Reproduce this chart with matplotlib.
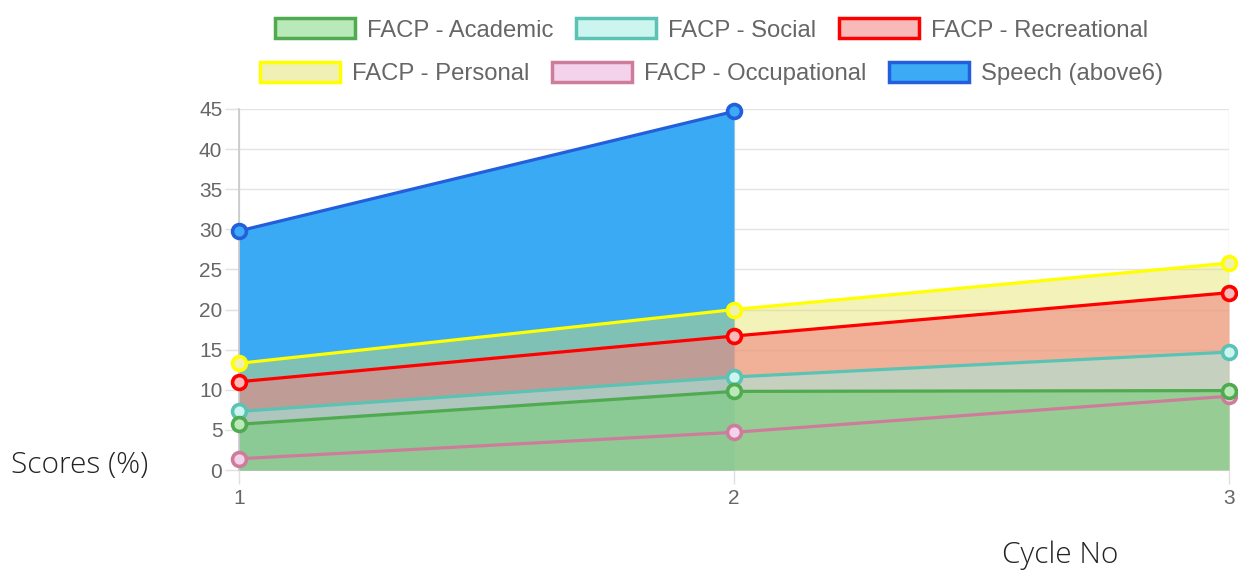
import matplotlib
matplotlib.use("Agg")
import matplotlib.pyplot as plt
import numpy as np
from matplotlib.patches import Patch

# data
cycles = [1, 2, 3]
academic = [5.7, 9.8, 9.9]
social = [7.3, 11.6, 14.7]
recreational = [11.0, 16.7, 22.1]
personal = [13.3, 20.0, 25.8]
occupational = [1.4, 4.7, 9.2]
speech = [29.8, 44.7, np.nan]
y_ticks = [0, 5, 10, 15, 20, 25, 30, 35, 40, 45]

labels = ["FACP - Academic", "FACP - Social", "FACP - Recreational",
          "FACP - Personal", "FACP - Occupational", "Speech (above6)"]


def rgb(r, g, b, a=1.0):
    return (r / 255, g / 255, b / 255, a)


# (line colour, area colour, legend face colour)
styles = {
    "FACP - Academic": (rgb(80, 170, 80), rgb(106, 206, 110, 0.5), rgb(185, 232, 185)),
    "FACP - Social": (rgb(90, 195, 180), rgb(158, 240, 228, 0.5), rgb(205, 245, 240)),
    "FACP - Recreational": (rgb(255, 0, 0), rgb(240, 128, 128, 0.57), rgb(248, 185, 185)),
    "FACP - Personal": (rgb(255, 255, 0), rgb(225, 225, 90, 0.42), rgb(240, 240, 180)),
    "FACP - Occupational": (rgb(205, 125, 155), rgb(240, 180, 220, 0.35), rgb(245, 210, 235)),
    "Speech (above6)": (rgb(35, 95, 220), rgb(58, 170, 245), rgb(60, 170, 245)),
}

series = [academic, social, recreational, personal, occupational, speech]

fig = plt.figure(figsize=(12.38, 5.77), dpi=100)
ax = fig.add_axes([239 / 1238, 1 - 470 / 577, (1229 - 239) / 1238, (470 - 109) / 577])

x = np.array(cycles, dtype=float)
# first dataset ends up on top, the last one (speech) at the bottom
for i, (name, vals) in enumerate(zip(labels, series)):
    line_c, area_c, face_c = styles[name]
    y = np.array(vals, dtype=float)
    ax.fill_between(x, 0, y, color=area_c, linewidth=0, zorder=2 - 0.1 * i)
    ax.plot(x, y, color=line_c, lw=2.3, marker="o", ms=10, mew=2.6,
            mfc=face_c, mec=line_c, zorder=5 - 0.1 * i, clip_on=False)

ax.set_xlim(1, 3)
ax.set_ylim(0, 45)
ax.set_xticks(cycles)
ax.set_yticks(y_ticks)
ax.grid(True, color="#e4e4e4", lw=1, zorder=0)
ax.set_axisbelow(True)
for s in ["top", "right", "bottom"]:
    ax.spines[s].set_visible(False)
ax.spines["left"].set_color("#c8c8c8")
ax.spines["left"].set_linewidth(1.2)
ax.tick_params(axis="both", colors="#e0e0e0", labelcolor="#666666",
               labelsize=15, length=10, width=1)
ax.tick_params(axis="y", pad=2)
ax.tick_params(axis="x", pad=4)
for t in ax.get_xticklabels() + ax.get_yticklabels():
    t.set_family("Liberation Sans")

handles = [Patch(facecolor=styles[l][2], edgecolor=styles[l][0], lw=2.5) for l in labels]
leg_kw = dict(loc="center", ncol=3, frameon=False, handlelength=3.35, handleheight=0.92,
              handletextpad=0.5, columnspacing=0.95,
              prop={"family": "Liberation Sans", "size": 17.2})
leg1 = fig.legend(handles[:3], labels[:3], bbox_to_anchor=(0.575, 0.948), **leg_kw)
leg2 = fig.legend(handles[3:], labels[3:], bbox_to_anchor=(0.575, 0.873), **leg_kw)
for lg in (leg1, leg2):
    for t in lg.get_texts():
        t.set_color("#666666")

fig.text(80 / 1238, 1 - 465 / 577, "Scores (%)", ha="center", va="center",
         fontsize=21.5, family="Open Sans", fontweight="light", color="#222222")
fig.text(1060 / 1238, 1 - 555 / 577, "Cycle No", ha="center", va="center",
         fontsize=21.5, family="Open Sans", fontweight="light", color="#222222")

fig.savefig("out.png", dpi=100)
